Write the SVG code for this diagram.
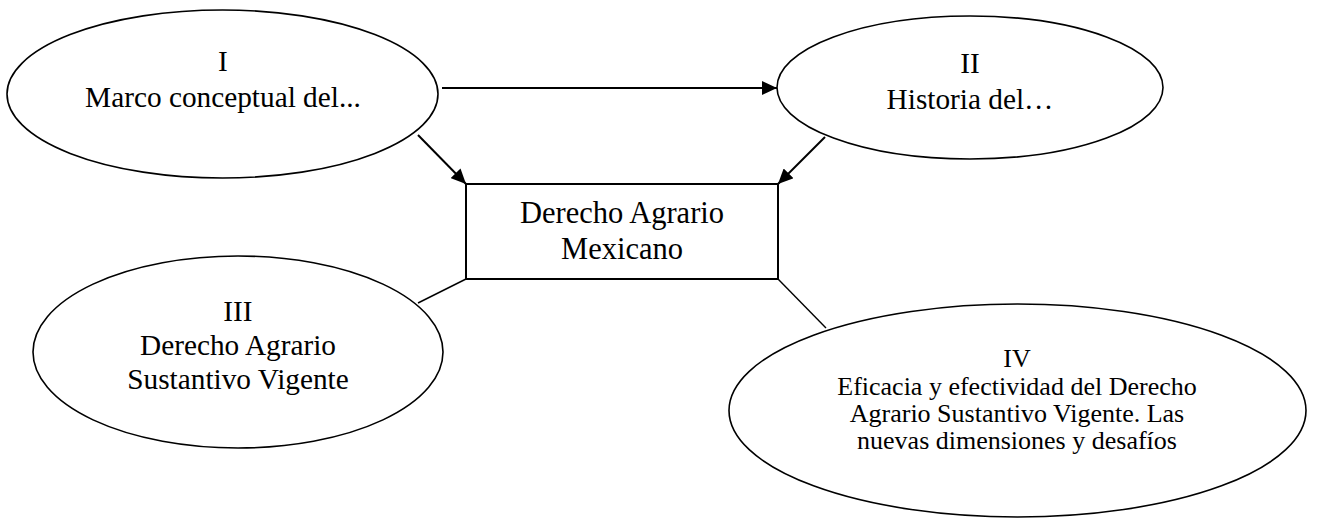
<svg xmlns="http://www.w3.org/2000/svg" width="1317" height="519" viewBox="0 0 1317 519">
<style>
.shape{fill:#fff;stroke:#000;stroke-width:1.6}
.box{fill:#fff;stroke:#000;stroke-width:2}
.t{font-family:"Liberation Serif","Times New Roman",serif;fill:#000;text-anchor:middle;font-size:29.3px}
.t4{font-size:26px}
.tb{font-size:30.5px}
.arr{stroke:#000;stroke-width:2;fill:none;marker-end:url(#ah)}
.ln{stroke:#000;stroke-width:1.4;fill:none}
</style>
<defs>
<marker id="ah" markerUnits="userSpaceOnUse" markerWidth="16" markerHeight="14" refX="15" refY="7" orient="auto">
<path d="M0,0 L15,7 L0,14 z" fill="#000"/>
</marker>
</defs>
<rect width="1317" height="519" fill="#fff"/>
<g id="connectors">
<line class="arr" x1="442" y1="88" x2="777" y2="88"/>
<line class="arr" x1="418" y1="135" x2="466" y2="184"/>
<line class="arr" x1="825" y1="137" x2="778" y2="184"/>
<line class="ln" x1="466" y1="279" x2="418" y2="303"/>
<line class="ln" x1="778" y1="279" x2="826" y2="328"/>
</g>
<g id="node-I">
<ellipse class="shape" cx="222.5" cy="94" rx="215.5" ry="84"/>
<text class="t" x="223" y="71">I</text>
<text class="t" x="223" y="107">Marco conceptual del...</text>
</g>
<g id="node-II">
<ellipse class="shape" cx="970" cy="87.5" rx="193" ry="71.5"/>
<text class="t" x="970" y="73">II</text>
<text class="t" x="970" y="109">Historia del…</text>
</g>
<g id="node-center">
<rect class="box" x="466" y="184" width="312" height="95"/>
<text class="t tb" x="622" y="223">Derecho Agrario</text>
<text class="t tb" x="622" y="259">Mexicano</text>
</g>
<g id="node-III">
<ellipse class="shape" cx="238" cy="352" rx="205" ry="96"/>
<text class="t" x="238" y="321">III</text>
<text class="t" x="238" y="355">Derecho Agrario</text>
<text class="t" x="238" y="389">Sustantivo Vigente</text>
</g>
<g id="node-IV">
<ellipse class="shape" cx="1017.5" cy="410.5" rx="288.5" ry="106.5"/>
<text class="t t4" x="1017" y="367">IV</text>
<text class="t t4" x="1017" y="395">Eficacia y efectividad del Derecho</text>
<text class="t t4" x="1017" y="422">Agrario Sustantivo Vigente. Las</text>
<text class="t t4" x="1017" y="449">nuevas dimensiones y desafíos</text>
</g>
</svg>
